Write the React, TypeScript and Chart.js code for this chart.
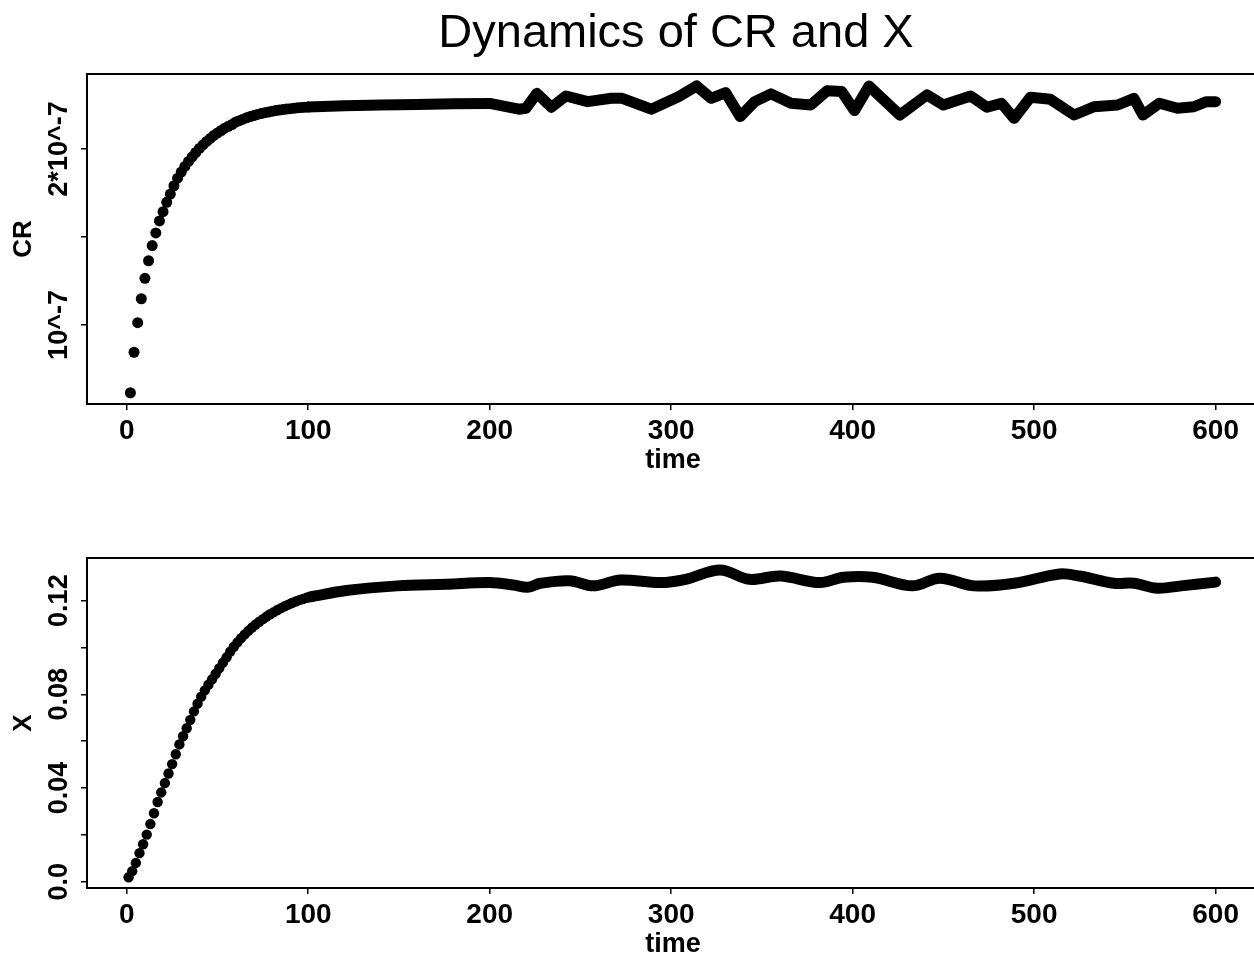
import React, { useEffect, useRef } from "react";
import { Chart, registerables } from "chart.js";

Chart.register(...registerables);

const FAMILY = "'Liberation Sans', Arial, Helvetica, sans-serif";

// ---- axis ticks ----
const TIME_TICKS = [0, 100, 200, 300, 400, 500, 600];
const CR_TICKS = [1e-7, 1.5e-7, 2e-7];
const CR_TICK_LABELS = ["10^-7", "", "2*10^-7"];
const X_TICKS = [0, 0.02, 0.04, 0.06, 0.08, 0.1, 0.12];
const X_TICK_LABELS = ["0.0", "", "0.04", "", "0.08", "", "0.12"];

// ---- CR series (values in units of 1e-7) ----
const CR_UNIT = 1e-7;
const CR_DOT_TIME = [
  2, 4, 6, 8, 10, 12, 14, 16, 18, 20, 22, 24, 26, 28, 30, 32, 34, 36, 38, 40,
  42, 44, 46, 48, 50, 52, 54, 56, 58, 60, 62, 64, 66, 68, 70, 72, 74, 76, 78, 80,
  82, 84, 86, 88, 90, 92, 94, 96, 98, 100,
];
const CR_DOT_VALUES = [
  0.615, 0.845, 1.013, 1.149, 1.265, 1.365, 1.451, 1.523, 1.591, 1.644,
  1.697, 1.744, 1.791, 1.834, 1.869, 1.901, 1.929, 1.955, 1.98, 2.003,
  2.023, 2.043, 2.06, 2.077, 2.091, 2.105, 2.118, 2.129, 2.139, 2.153,
  2.161, 2.169, 2.177, 2.184, 2.19, 2.196, 2.201, 2.206, 2.21, 2.214,
  2.218, 2.221, 2.224, 2.227, 2.229, 2.231, 2.234, 2.235, 2.237, 2.239,
];
const CR_LINE_TIME = [
  100, 120, 140, 160, 180, 200, 216, 220, 226, 234, 242, 254, 267, 273, 289,
  304, 314, 322, 330, 338, 346, 355, 366, 377, 386, 394, 401, 409, 426, 441,
  450, 465, 474, 482, 489, 498, 509, 522, 533, 546, 555, 560, 569, 579, 588,
  595, 600,
];
const CR_LINE_VALUES = [
  2.239, 2.245, 2.25, 2.253, 2.257, 2.259, 2.226, 2.231, 2.316, 2.237, 2.301,
  2.269, 2.288, 2.288, 2.226, 2.297, 2.358, 2.288, 2.32, 2.184, 2.269, 2.313,
  2.26, 2.25, 2.331, 2.326, 2.218, 2.358, 2.193, 2.307, 2.25, 2.301, 2.237,
  2.26, 2.174, 2.294, 2.282, 2.193, 2.24, 2.25, 2.288, 2.193, 2.26, 2.231,
  2.24, 2.269, 2.269,
];

// ---- X series ----
const X_DOT_TIME = [
  1, 3, 5, 7, 9, 11, 13, 15, 17, 19, 21, 23, 25, 27, 29, 31, 33, 35, 37, 39,
  41, 43, 45, 47, 49, 51, 53, 55, 57, 59, 61, 63, 65, 67, 69, 71, 73, 75, 77, 79,
  81, 83, 85, 87, 89, 91, 93, 95, 97, 99, 101,
];
const X_DOT_VALUES = [
  0.0019, 0.0045, 0.008, 0.0122, 0.016, 0.0201, 0.0246, 0.0292, 0.034, 0.0381,
  0.0421, 0.0462, 0.0502, 0.0544, 0.0586, 0.0621, 0.0655, 0.0691, 0.0727, 0.076,
  0.079, 0.0817, 0.0841, 0.0864, 0.0888, 0.0912, 0.0935, 0.0958, 0.0982, 0.1003,
  0.1022, 0.104, 0.1056, 0.1071, 0.1085, 0.1098, 0.111, 0.1121, 0.1132, 0.1142,
  0.1151, 0.116, 0.1168, 0.1176, 0.1183, 0.119, 0.1196, 0.1202, 0.1207, 0.1212,
  0.1216,
];
const X_LINE_TIME = [
  101, 121, 149, 176, 200, 213, 221, 228, 244, 257, 272, 294, 308, 327, 343,
  360, 382, 395, 411, 433, 448, 467, 489, 514, 525, 544, 555, 568, 581, 600,
];
const X_LINE_VALUES = [
  0.1216, 0.1243, 0.1263, 0.127, 0.1277, 0.1267, 0.1257, 0.1274, 0.1285,
  0.1263, 0.1288, 0.1277, 0.1291, 0.1331, 0.1291, 0.1305, 0.1277, 0.13, 0.13,
  0.1263, 0.1296, 0.1263, 0.1274, 0.1314, 0.1305, 0.1274, 0.1274, 0.1253,
  0.1263, 0.1279,
];

const TITLE = "Dynamics of CR and X";

const CANVAS_W = 1280;
const CANVAS_H = 482;

const boxPlugin = {
  id: "rbox",
  afterDraw(chart: any) {
    const { ctx, chartArea: a } = chart;
    ctx.save();
    ctx.strokeStyle = "#000";
    ctx.lineWidth = 2;
    ctx.strokeRect(a.left, a.top, a.right - a.left, a.bottom - a.top);
    ctx.restore();
  },
};

function makeYLabelPlugin(values: number[], labels: string[]) {
  return {
    id: "ylabels",
    afterDraw(chart: any) {
      const { ctx } = chart;
      const scale = chart.scales.y;
      ctx.save();
      ctx.fillStyle = "#000";
      ctx.font = `bold 27px ${FAMILY}`;
      ctx.textAlign = "center";
      ctx.textBaseline = "middle";
      values.forEach((v, i) => {
        const lab = labels[i];
        if (!lab) return;
        const py = scale.getPixelForValue(v);
        ctx.save();
        ctx.translate(60, py);
        ctx.rotate(-Math.PI / 2);
        ctx.fillText(lab, 0, 0);
        ctx.restore();
      });
      ctx.restore();
    },
  };
}

function makeTitlePlugin(text: string) {
  return {
    id: "toptitle",
    afterDraw(chart: any) {
      const { ctx, chartArea: a } = chart;
      ctx.save();
      ctx.fillStyle = "#000";
      ctx.font = `47px ${FAMILY}`;
      ctx.textAlign = "center";
      ctx.textBaseline = "alphabetic";
      ctx.fillText(text, (a.left + a.right) / 2 + 3, 47);
      ctx.restore();
    },
  };
}

function buildConfig(
  dotT: number[],
  dotV: number[],
  lineT: number[],
  lineV: number[],
  unit: number,
  yMin: number,
  yMax: number,
  yTicks: number[],
  yLabels: string[],
  yTitle: string,
  dotRadius: number,
  tension: number,
  withTitle: boolean
): any {
  const plugins: any[] = [boxPlugin, makeYLabelPlugin(yTicks, yLabels)];
  if (withTitle) plugins.push(makeTitlePlugin(TITLE));
  return {
    type: "scatter",
    data: {
      datasets: [
        {
          data: lineT.map((t, i) => ({ x: t, y: lineV[i] * unit })),
          showLine: true,
          borderColor: "#000",
          borderWidth: 11,
          borderJoinStyle: "round",
          borderCapStyle: "round",
          tension,
          pointRadius: 0,
          pointHoverRadius: 0,
          fill: false,
        },
        {
          data: dotT.map((t, i) => ({ x: t, y: dotV[i] * unit })),
          showLine: false,
          pointRadius: dotRadius,
          pointHoverRadius: dotRadius,
          pointBackgroundColor: "#000",
          pointBorderWidth: 0,
          pointBorderColor: "#000",
        },
      ],
    },
    options: {
      responsive: false,
      animation: false,
      devicePixelRatio: 1,
      layout: { padding: { left: 0, top: 74, right: 21, bottom: 0 } },
      plugins: {
        legend: { display: false },
        tooltip: { enabled: false },
        title: { display: false },
      },
      events: [],
      scales: {
        x: {
          type: "linear",
          min: -21.92,
          max: 623.92,
          afterBuildTicks: (s: any) => {
            s.ticks = TIME_TICKS.map((v) => ({ value: v }));
          },
          afterFit: (s: any) => {
            s.height = 78;
          },
          grid: {
            display: true,
            drawOnChartArea: false,
            drawTicks: true,
            tickLength: 6,
            color: "#000",
            lineWidth: 1.5,
          },
          border: { display: false },
          ticks: {
            color: "#000",
            font: { size: 28, family: FAMILY, weight: "bold" },
            padding: 4,
            maxRotation: 0,
            minRotation: 0,
            autoSkip: false,
          },
          title: {
            display: true,
            text: "time",
            color: "#000",
            font: { size: 27, family: FAMILY, weight: "bold" },
            padding: { top: 0, bottom: 5 },
          },
        },
        y: {
          type: "linear",
          min: yMin,
          max: yMax,
          afterBuildTicks: (s: any) => {
            s.ticks = yTicks.map((v) => ({ value: v }));
          },
          afterFit: (s: any) => {
            s.width = 87;
          },
          grid: {
            display: true,
            drawOnChartArea: false,
            drawTicks: true,
            tickLength: 6,
            color: "#000",
            lineWidth: 1.5,
          },
          border: { display: false },
          ticks: { display: false },
          title: {
            display: true,
            text: yTitle,
            color: "#000",
            font: { size: 26, family: FAMILY, weight: "bold" },
            padding: { top: 8, bottom: 0 },
          },
        },
      },
    },
    plugins,
  };
}

export default function App() {
  const topRef = useRef<HTMLCanvasElement | null>(null);
  const botRef = useRef<HTMLCanvasElement | null>(null);

  useEffect(() => {
    const charts: Chart[] = [];
    if (topRef.current) {
      charts.push(
        new Chart(
          topRef.current,
          buildConfig(
            CR_DOT_TIME,
            CR_DOT_VALUES,
            CR_LINE_TIME,
            CR_LINE_VALUES,
            CR_UNIT,
            0.551e-7,
            2.426e-7,
            CR_TICKS,
            CR_TICK_LABELS,
            "CR",
            5.5,
            0,
            true
          )
        )
      );
    }
    if (botRef.current) {
      charts.push(
        new Chart(
          botRef.current,
          buildConfig(
            X_DOT_TIME,
            X_DOT_VALUES,
            X_LINE_TIME,
            X_LINE_VALUES,
            1,
            -0.0027,
            0.1382,
            X_TICKS,
            X_TICK_LABELS,
            "X",
            5.2,
            0.35,
            false
          )
        )
      );
    }
    return () => {
      charts.forEach((c) => c.destroy());
    };
  }, []);

  return (
    <div
      style={{
        position: "fixed",
        left: 0,
        top: 0,
        width: 1254,
        height: 965,
        overflow: "hidden",
        background: "#fff",
      }}
    >
      <canvas
        ref={topRef}
        width={CANVAS_W}
        height={CANVAS_H}
        style={{ position: "absolute", left: 0, top: 0, width: CANVAS_W, height: CANVAS_H }}
      />
      <canvas
        ref={botRef}
        width={CANVAS_W}
        height={CANVAS_H}
        style={{ position: "absolute", left: 0, top: 484, width: CANVAS_W, height: CANVAS_H }}
      />
    </div>
  );
}
